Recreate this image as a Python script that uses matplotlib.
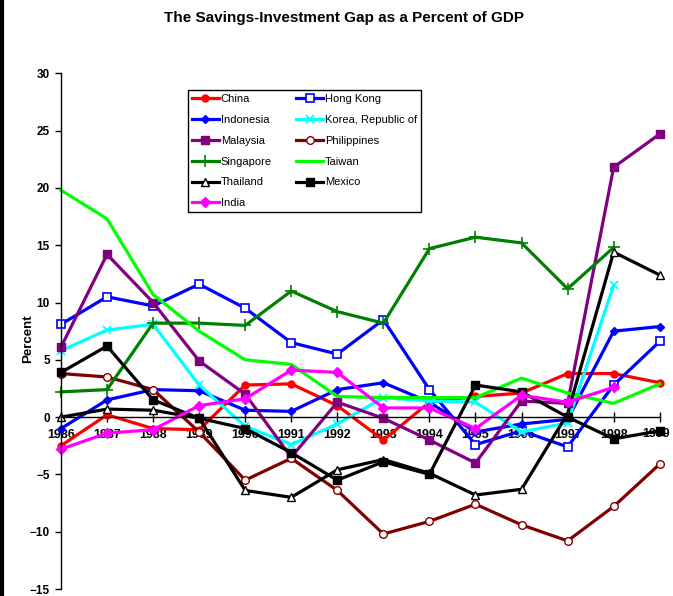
import numpy as np
import matplotlib
matplotlib.use("Agg")
import matplotlib.pyplot as plt
from matplotlib.lines import Line2D

plt.rcParams['font.family'] = ['Liberation Sans', 'DejaVu Sans']

years = [1986, 1987, 1988, 1989, 1990, 1991, 1992, 1993, 1994, 1995, 1996, 1997, 1998, 1999]
nan = np.nan

china       = [-2.5, 0.2, -1.0, -1.1, 2.8, 2.9, 1.0, -2.0, 1.3, 1.8, 2.1, 3.8, 3.8, 3.0]
hong_kong   = [8.1, 10.5, 9.7, 11.6, 9.5, 6.5, 5.5, 8.5, 2.4, -2.4, -1.2, -2.6, 2.8, 6.6]
indonesia   = [-1.0, 1.5, 2.4, 2.3, 0.6, 0.5, 2.4, 3.0, 1.3, -1.3, -0.6, -0.2, 7.5, 7.9]
korea       = [5.8, 7.6, 8.1, 2.8, -0.8, -2.4, -0.6, 1.7, 1.4, 1.3, -1.3, -0.5, 11.5, nan]
malaysia    = [6.1, 14.2, 10.0, 4.9, 2.0, -3.5, 1.3, -0.1, -2.0, -4.0, 1.4, 1.2, 21.8, 24.7]
philippines = [3.8, 3.5, 2.4, -1.3, -5.5, -3.6, -6.4, -10.2, -9.1, -7.6, -9.4, -10.8, -7.8, -4.1]
singapore   = [2.2, 2.4, 8.2, 8.2, 8.0, 11.0, 9.2, 8.2, 14.7, 15.7, 15.2, 11.2, 14.8, nan]
taiwan      = [19.8, 17.3, 10.7, 7.5, 5.0, 4.6, 1.8, 1.7, 1.7, 1.7, 3.4, 2.1, 1.2, 2.9]
thailand    = [0.0, 0.7, 0.6, -0.1, -6.4, -7.0, -4.6, -3.7, -4.9, -6.8, -6.3, 0.3, 14.4, 12.4]
mexico      = [3.9, 6.2, 1.5, -0.1, -1.0, -3.1, -5.5, -3.9, -5.0, 2.8, 2.2, 0.0, -1.9, -1.2]
india       = [-2.8, -1.4, -1.1, 1.0, 1.6, 4.1, 3.9, 0.8, 0.8, -1.0, 1.9, 1.3, 2.6, nan]

year_labels = [str(y) for y in years]

series = [
    ("China", china, dict(color="#FF0000", marker="o", ms=5, mfc="#FF0000", mec="#FF0000")),
    ("Hong Kong", hong_kong, dict(color="#0000FF", marker="s", ms=6, mfc="white", mec="#0000FF", mew=1.2)),
    ("Indonesia", indonesia, dict(color="#0000FF", marker="D", ms=4, mfc="#0000FF", mec="#0000FF")),
    ("Korea, Republic of", korea, dict(color="#00FFFF", marker="x", ms=6, mec="#00FFFF", mew=1.2)),
    ("Malaysia", malaysia, dict(color="#800080", marker="s", ms=6, mfc="#800080", mec="#800080")),
    ("Philippines", philippines, dict(color="#800000", marker="o", ms=5.5, mfc="white", mec="#800000", mew=1.0)),
    ("Singapore", singapore, dict(color="#008000", marker="+", ms=8, mec="#008000", mew=1.2)),
    ("Taiwan", taiwan, dict(color="#00FF00", marker=None)),
    ("Thailand", thailand, dict(color="#000000", marker="^", ms=6, mfc="white", mec="#000000", mew=1.0)),
    ("Mexico", mexico, dict(color="#000000", marker="s", ms=6, mfc="#000000", mec="#000000")),
    ("India", india, dict(color="#FF00FF", marker="D", ms=5, mfc="#FF00FF", mec="#FF00FF")),
]

fig = plt.figure(figsize=(6.73, 5.96), dpi=100)
ax_w = (659.7 - 61) / 673
ax_h = (589 - 73.3) / 596
ax = fig.add_axes([61/673, 1 - 589/596, ax_w, ax_h])

handles = {}
for name, vals, style in series:
    ln, = ax.plot(years, vals, lw=2.3, label=name, clip_on=False, **style)
    handles[name] = ln

# spines first (set_position resets ticks)
ax.spines["top"].set_visible(False)
ax.spines["right"].set_visible(False)
ax.spines["bottom"].set_position(("data", 0))
ax.spines["left"].set_linewidth(1.0)
ax.spines["bottom"].set_linewidth(1.0)

ax.set_xlim(1986, 1999)
ax.set_ylim(-15, 30)
ax.set_yticks(range(-15, 31, 5))
ax.set_xticks(years)
ax.tick_params(axis="x", direction="inout", length=7, width=1, pad=5, labelsize=9)
ax.tick_params(axis="y", direction="out", length=4, width=1, pad=4, labelsize=8.5)
# last year label is drawn separately so it stays inside the figure
ax.set_xticklabels(year_labels[:-1] + [""])
for lbl in ax.get_xticklabels() + ax.get_yticklabels():
    lbl.set_fontweight("bold")
ax.annotate(year_labels[-1], xy=(years[-1], 0), xycoords="data",
            xytext=(-2.6, -7.5), textcoords="offset points",
            ha="center", va="top", fontsize=9, fontweight="bold", zorder=1.5)

ax.set_ylabel("Percent", fontsize=9.5, fontweight="bold")
ax.yaxis.set_label_coords((34 - 61) / 598.7, (589 - 339) / (589 - 73.3))
fig.text(344/673, 1 - 18/596, "The Savings-Investment Gap as a Percent of GDP",
         ha="center", va="center", fontsize=11, fontweight="bold")

order = ["China", "Indonesia", "Malaysia", "Singapore", "Thailand", "India",
         "Hong Kong", "Korea, Republic of", "Philippines", "Taiwan", "Mexico"]
leg = ax.legend([handles[n] for n in order], order, ncol=2,
                loc="upper left",
                bbox_to_anchor=((188 - 61) / 598.7, (589 - 90) / (589 - 73.3)),
                borderaxespad=0,
                fontsize=8, frameon=True, fancybox=False, edgecolor="black",
                framealpha=1, handlelength=2.4, handletextpad=0.2, columnspacing=2.2,
                labelspacing=0.98, borderpad=0.35)
leg.get_frame().set_linewidth(1.0)

fig.add_artist(Line2D([2/673, 2/673], [0, 1], transform=fig.transFigure, color="black", lw=3))

fig.savefig("out.png", dpi=100)
